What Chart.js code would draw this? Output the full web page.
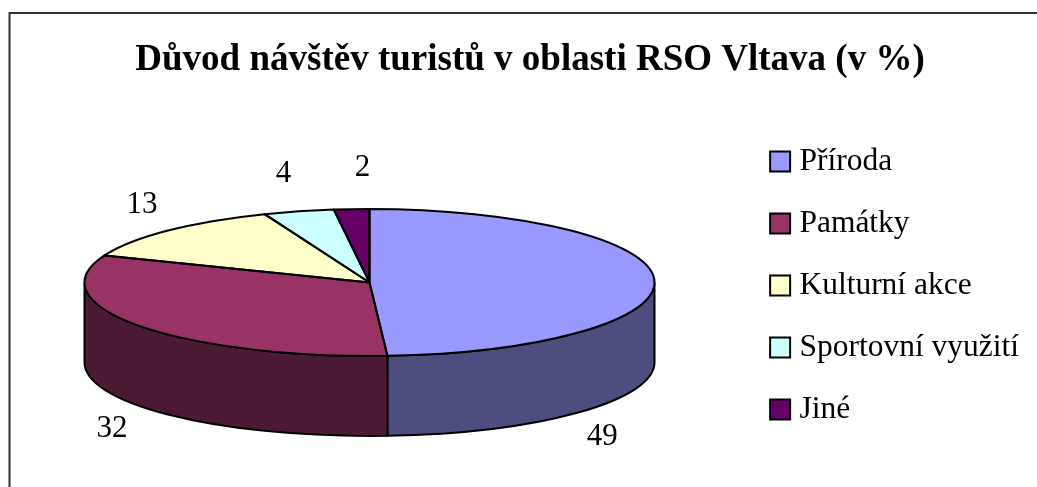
<!DOCTYPE html>
<html>
<head>
<meta charset="utf-8">
<style>
  html, body { margin: 0; padding: 0; background: #fff; overflow: hidden; }
  #wrap { width: 1037px; height: 487px; }
</style>
</head>
<body>
<div id="wrap"><canvas id="chart" width="1037" height="487"></canvas></div>
<script src="https://cdn.jsdelivr.net/npm/chart.js@4"></script>
<script>
const categories = ['Příroda', 'Památky', 'Kulturní akce', 'Sportovní využití', 'Jiné'];
const values = [49, 32, 13, 4, 2];
const topColors = ['#9999FF', '#993366', '#FFFFCC', '#CCFFFF', '#660066'];
const sideColors = ['#4D4D80', '#4D1A33', '#80806A', '#6A8080', '#330033'];
// posun popisku od okraje vysece
const labelOffsets = [[-52, 157], [-27, 103], [-26, -26], [-15, -37], [11, -41]];

const FONT = '"Liberation Serif", "Times New Roman", serif';
const centerX = 369.5, centerY = 282.5;
const radius = 285, squash = 73.5 / 285, depth = 80;

function useTilt(ctx, arc) {
    ctx.translate(centerX, centerY);
    ctx.scale(1, squash);
    ctx.translate(-arc.x, -arc.y);
}

const pie3d = {
    id: 'pie3d',
    beforeDraw(chart) {
        // ramecek: jen horni a leva strana
        const ctx = chart.ctx;
        ctx.save();
        ctx.strokeStyle = '#333';
        ctx.lineWidth = 2;
        ctx.beginPath();
        ctx.moveTo(9.5, 487);
        ctx.lineTo(9.5, 13);
        ctx.lineTo(1037, 13);
        ctx.stroke();
        ctx.restore();
    },
    beforeDatasetsDraw(chart) {
        const ctx = chart.ctx;
        const arcs = chart.getDatasetMeta(0).data;
        ctx.lineWidth = 2;
        ctx.strokeStyle = '#000';
        arcs.forEach((arc, i) => {
            const a0 = Math.max(arc.startAngle, 0);
            const a1 = Math.min(arc.endAngle, Math.PI);
            if (a1 <= a0) return;
            ctx.save();
            useTilt(ctx, arc);
            ctx.beginPath();
            ctx.arc(arc.x, arc.y, arc.outerRadius, a0, a1);
            ctx.arc(arc.x, arc.y + depth / squash, arc.outerRadius, a1, a0, true);
            ctx.closePath();
            ctx.restore();
            ctx.save();
            ctx.fillStyle = sideColors[i];
            ctx.lineWidth = 2;
            ctx.fill();
            ctx.stroke();
            ctx.restore();
        });
        ctx.save();
        useTilt(ctx, arcs[0]);
    },
    afterDatasetsDraw(chart) {
        const ctx = chart.ctx;
        const arcs = chart.getDatasetMeta(0).data;
        ctx.restore();
        arcs.forEach(arc => {
            ctx.save();
            useTilt(ctx, arc);
            ctx.beginPath();
            ctx.moveTo(arc.x, arc.y);
            ctx.arc(arc.x, arc.y, arc.outerRadius, arc.startAngle, arc.endAngle);
            ctx.closePath();
            ctx.restore();
            ctx.save();
            ctx.strokeStyle = '#000';
            ctx.lineWidth = 2;
            ctx.lineJoin = 'round';
            ctx.stroke();
            ctx.restore();
        });
        // popisky hodnot
        ctx.save();
        ctx.font = '31px ' + FONT;
        ctx.fillStyle = '#000';
        ctx.textAlign = 'center';
        ctx.textBaseline = 'middle';
        arcs.forEach((arc, i) => {
            const mid = (arc.startAngle + arc.endAngle) / 2;
            const x = centerX + arc.outerRadius * Math.cos(mid) + labelOffsets[i][0];
            const y = centerY + arc.outerRadius * squash * Math.sin(mid) + labelOffsets[i][1];
            ctx.fillText(String(values[i]), x, y);
        });
        ctx.restore();
    }
};

new Chart(document.getElementById('chart'), {
    type: 'pie',
    data: {
        labels: categories,
        datasets: [{
            data: values,
            backgroundColor: topColors,
            borderWidth: 0,
            radius: radius,
            clip: false
        }]
    },
    options: {
        responsive: false,
        animation: false,
        // legenda se centruje na celou vysku platna, proto zaporny spodek
        layout: { padding: { left: 31, right: 8, top: 0, bottom: -84 } },
        plugins: {
            tooltip: { enabled: false },
            title: {
                display: true,
                text: 'Důvod návštěv turistů v oblasti RSO Vltava (v %)',
                color: '#000',
                font: { family: FONT, size: 37, weight: 'bold' },
                padding: { top: 38, bottom: 0 }
            },
            legend: {
                position: 'right',
                labels: {
                    color: '#000',
                    font: { family: FONT, size: 31.5 },
                    usePointStyle: true,
                    pointStyle: 'rect',
                    boxWidth: 7,
                    boxHeight: 20,
                    padding: 30.5,
                    generateLabels(chart) {
                        return Chart.overrides.pie.plugins.legend.labels.generateLabels(chart).map(item => {
                            item.strokeStyle = '#000';
                            item.lineWidth = 2;
                            return item;
                        });
                    }
                }
            }
        }
    },
    plugins: [pie3d]
});
</script>
</body>
</html>
